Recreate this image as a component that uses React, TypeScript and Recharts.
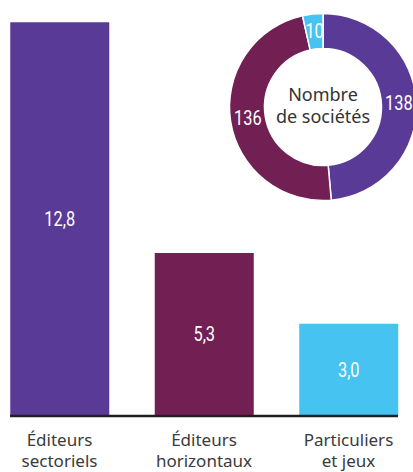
import { BarChart, Bar, XAxis, YAxis, Cell, LabelList, PieChart, Pie } from "recharts";

const categories = ["Éditeurs sectoriels", "Éditeurs horizontaux", "Particuliers et jeux"];
const revenue = [12.8, 5.3, 3.0];
const companies = [138, 136, 10];
const COLORS = ["#593b97", "#721f54", "#46c3f0"];

const barData = categories.map((name, i) => ({ name, value: revenue[i] }));
const pieData = categories.map((name, i) => ({ name, value: companies[i] }));

const textFont = "'Noto Sans', Lato, sans-serif";
const RAD = Math.PI / 180;

const fr = (v: number) => v.toFixed(1).replace(".", ",");

// condensed white figures (Roboto squeezed horizontally)
function NumText({ x, y, children }: { x: number; y: number; children: any }) {
  return (
    <text
      transform={`translate(${x} ${y}) scale(0.78 1)`}
      x={0}
      y={0}
      fill="#fff"
      textAnchor="middle"
      dominantBaseline="central"
      fontSize={21}
      fontFamily="Roboto, sans-serif"
    >
      {children}
    </text>
  );
}

function BarValue({ x, y, width, height, value }: any) {
  return <NumText x={Number(x) + Number(width) / 2} y={Number(y) + Number(height) / 2}>{fr(Number(value))}</NumText>;
}

function sliceLabel({ cx, cy, midAngle, innerRadius, outerRadius, value }: any) {
  const r = (innerRadius + outerRadius) / 2;
  const x = cx + r * Math.cos(-midAngle * RAD);
  const y = cy + r * Math.sin(-midAngle * RAD);
  return <NumText x={x} y={y}>{value}</NumText>;
}

function CategoryTick({ x, y, payload }: any) {
  const s = String(payload.value);
  const k = s.indexOf(" ");
  const lines = [s.slice(0, k), s.slice(k + 1)];
  return (
    <text x={x} y={y} textAnchor="middle" fill="#3a3a3a" fontSize={17} fontFamily={textFont}>
      {lines.map((l, i) => (
        <tspan key={i} x={x} dy={i === 0 ? 30 : 21}>{l}</tspan>
      ))}
    </text>
  );
}

export default function App() {
  return (
    <div style={{ position: "absolute", left: 0, top: 0, width: 413, height: 472, overflow: "hidden", background: "#fff" }}>
      <BarChart width={413} height={472} data={barData} margin={{ top: 10, right: 15, left: 10, bottom: 0 }}>
        <XAxis
          dataKey="name"
          height={56}
          tickLine={false}
          tickSize={0}
          tickMargin={0}
          interval={0}
          padding={{ left: -22.75, right: -22.75 }}
          axisLine={{ stroke: "#231f20", strokeWidth: 2.5 }}
          tick={<CategoryTick />}
        />
        <YAxis hide domain={[0, 13.2]} />
        <Bar dataKey="value" barSize={99} isAnimationActive={false}>
          {barData.map((_, i) => <Cell key={i} fill={COLORS[i]} />)}
          <LabelList dataKey="value" content={<BarValue />} />
        </Bar>
      </BarChart>

      <div style={{ position: "absolute", left: 223, top: 7 }}>
        <PieChart width={200} height={200} margin={{ top: 0, right: 0, bottom: 0, left: 0 }}>
          <Pie
            data={pieData}
            dataKey="value"
            cx={100}
            cy={100}
            innerRadius={58.5}
            outerRadius={93.5}
            startAngle={90}
            endAngle={-270}
            stroke="#fff"
            strokeWidth={1.5}
            labelLine={false}
            label={sliceLabel}
            isAnimationActive={false}
          >
            {pieData.map((_, i) => <Cell key={i} fill={COLORS[i]} />)}
          </Pie>
        </PieChart>
      </div>

      <div
        style={{
          position: "absolute",
          left: 258,
          top: 83,
          width: 130,
          textAlign: "center",
          fontFamily: textFont,
          fontSize: 18,
          lineHeight: "22px",
          color: "#333",
        }}
      >
        Nombre
        <br />
        de sociétés
      </div>
    </div>
  );
}
